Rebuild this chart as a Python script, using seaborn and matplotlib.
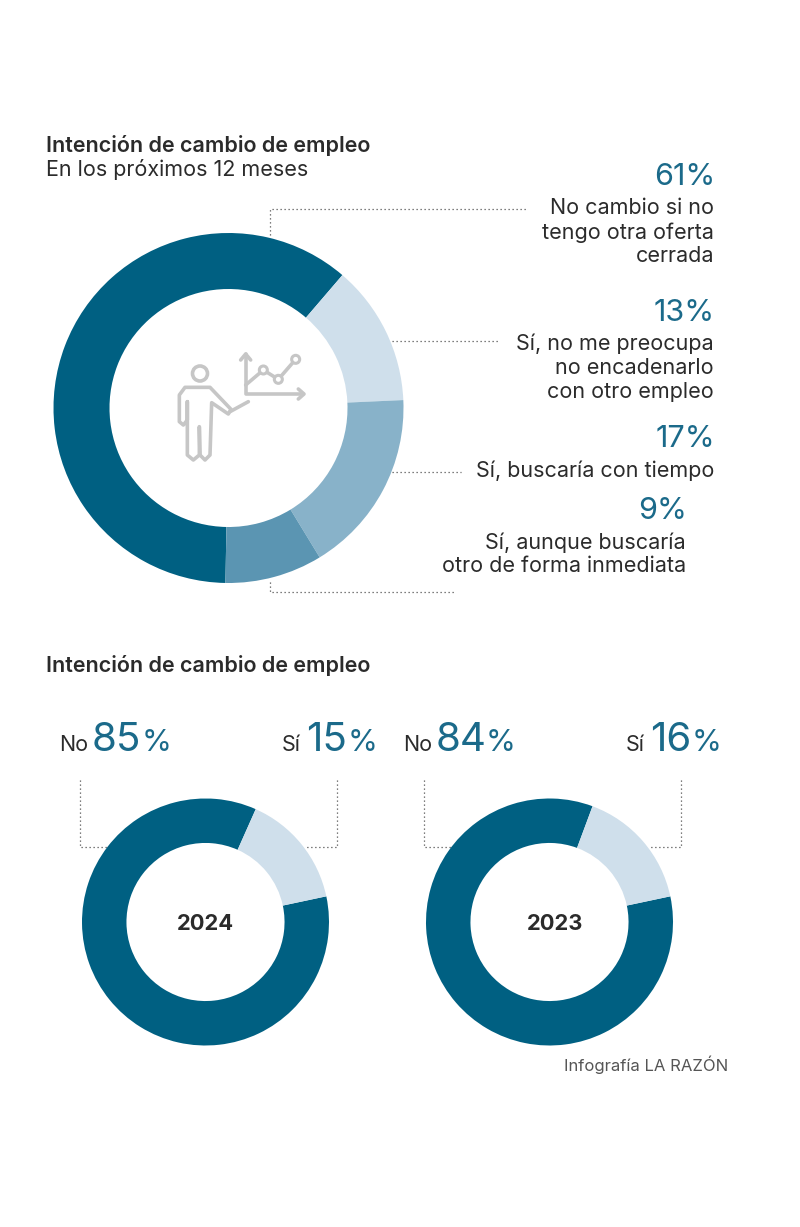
import matplotlib
matplotlib.use("Agg")
import matplotlib.pyplot as plt
import seaborn as sns

main_labels = ["No cambio si no\ntengo otra oferta\ncerrada", "Sí, no me preocupa\nno encadenarlo\ncon otro empleo", "Sí, buscaría con tiempo", "Sí, aunque buscaría\notro de forma inmediata"]
main_values = [61, 13, 17, 9]
main_colors = ["#006082", "#cfdfeb", "#88b2c9", "#5b95b2"]
years = ["2024", "2023"]
no_values = [85, 84]
si_values = [15, 16]

sns.set_theme(style="white")
plt.rcParams['font.family'] = ['Inter', 'DejaVu Sans']
W, H = 800, 1227
fig = plt.figure(figsize=(W/100, H/100), dpi=100, facecolor="white")
ov = fig.add_axes([0, 0, 1, 1]); ov.set_xlim(0, W); ov.set_ylim(H, 0); ov.axis("off")

def donut(cx, cy, r, vals, cols, width, start):
    ax = fig.add_axes([(cx-r)/W, 1-(cy+r)/H, 2*r/W, 2*r/H])
    ax.pie(vals, colors=cols, startangle=start, counterclock=False, radius=1,
           wedgeprops=dict(width=width, linewidth=0))
    ax.set_xlim(-1, 1); ax.set_ylim(-1, 1); ax.axis("off")

donut(228.5, 408, 175, main_values, main_colors, 0.32, 269)
for cx, n, s in zip([205.5, 549.5], no_values, si_values):
    donut(cx, 922, 123.5, [n, s], ["#006082", "#cfdfeb"], 0.36, 12)

dark = "#2b2b2b"; blue = "#1b6a8a"
BODY = 15.5
def T(x, y, s, size, color=dark, ha="left", weight="normal"):
    ov.text(x, y, s, fontsize=size, color=color, ha=ha, va="baseline", fontweight=weight)

def block(x, ys, s):
    for y, line in zip(ys, s.split("\n")):
        T(x, y, line, BODY, ha="right")

T(46, 152, "Intención de cambio de empleo", BODY, weight="semibold")
T(46, 176, "En los próximos 12 meses", BODY)
T(46, 672, "Intención de cambio de empleo", BODY, weight="semibold")

PCT = 22
T(715, 185, f"{main_values[0]}%", PCT, blue, "right")
block(714, [214, 239, 262], main_labels[0])
T(715, 321, f"{main_values[1]}%", PCT, blue, "right")
block(714, [350, 374, 398], main_labels[1])
T(715, 447, f"{main_values[2]}%", PCT, blue, "right")
block(714, [477], main_labels[2])
T(687, 519, f"{main_values[3]}%", PCT, blue, "right")
block(686, [549, 572], main_labels[3])

dot = dict(color="#555555", lw=0.9, ls=(0, (1, 2.2)))
ov.plot([270, 270, 527], [235, 209, 209], **dot)
ov.plot([392, 500], [341, 341], **dot)
ov.plot([392, 461], [472, 472], **dot)
ov.plot([270, 270, 455], [582, 592, 592], **dot)

# pictogram (traced from a zoom: crop pixels / 3 + offset)
ic = "#c6c6c6"
g = dict(color=ic, lw=2.6, solid_capstyle="round", solid_joinstyle="round")
def P(pts):
    return [150 + p[0]/3 for p in pts], [330 + p[1]/3 for p in pts]
ov.add_patch(plt.Circle((200, 373.5), 7.5, fill=False, ec=ic, lw=2.6))
ov.plot(*P([(112, 215), (112, 270), (100, 285), (88, 275), (88, 195), (105, 172), (180, 172), (243, 238),
            (235, 252), (185, 218), (180, 375), (165, 390), (150, 375), (148, 290), (148, 375), (130, 390),
            (112, 375), (112, 215)]), **g)
ov.plot(*P([(240, 245), (295, 215)]), **g)
ov.plot(*P([(287, 72), (287, 192), (460, 192)]), **g)
ov.plot(*P([(272, 90), (287, 72), (302, 90)]), **g)
ov.plot(*P([(445, 177), (462, 192), (445, 207)]), **g)
ov.plot(*P([(287, 165), (340, 120), (385, 148), (437, 88)]), **g)
for p in [(340, 120), (385, 148), (437, 88)]:
    xs, ys = P([p])
    ov.add_patch(plt.Circle((xs[0], ys[0]), 4, fc="white", ec=ic, lw=2.2, zorder=3))

BIG = 29; SMALLP = 22
for off, year_x, y, n, s in zip([0, 344], [205.5, 555], years, no_values, si_values):
    T(59+off, 751, "No", BODY)
    T(92+off, 751, f"{n}", BIG, blue)
    T(142+off, 751, "%", SMALLP, blue)
    T(282+off, 751, "Sí", BODY)
    T(306+off, 751, f"{s}", BIG, blue)
    T(348+off, 751, "%", SMALLP, blue)
    ov.plot([80+off, 80+off, 108+off], [780, 847, 847], **dot)
    ov.plot([337+off, 337+off, 305+off], [780, 847, 847], **dot)
    T(year_x, 930, y, 15.8, ha="center", weight="bold")
T(728, 1071, "Infografía LA RAZÓN", 12, color="#555555", ha="right")

fig.savefig("out.png", dpi=100, facecolor="white")
